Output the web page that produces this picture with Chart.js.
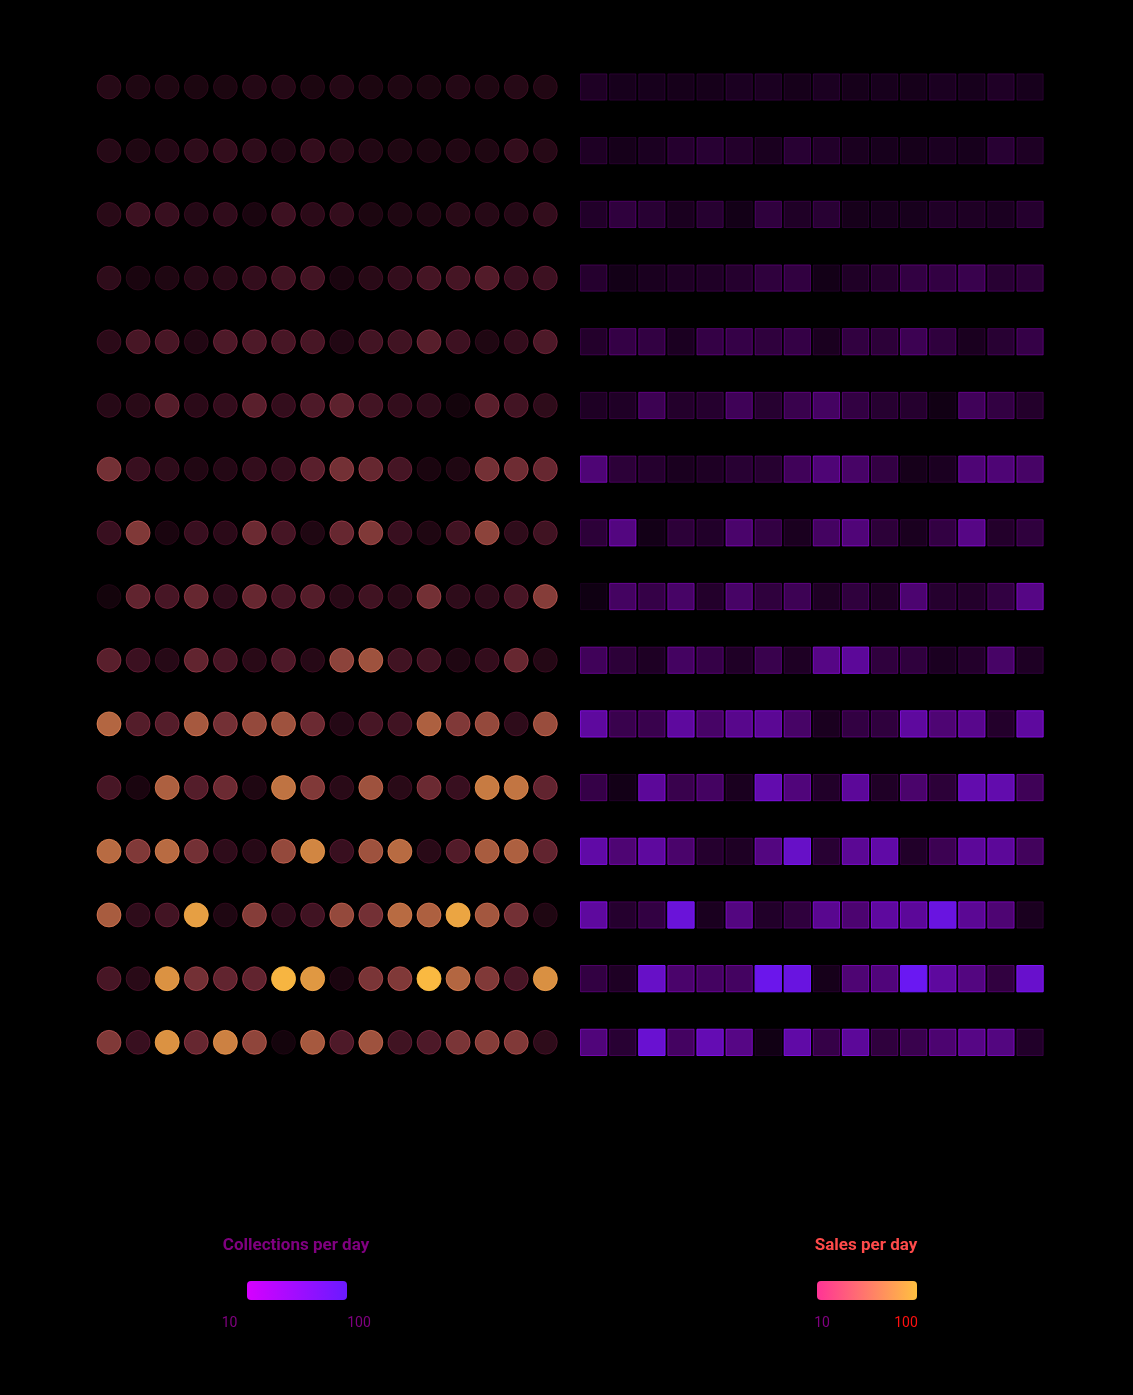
<!DOCTYPE html>
<html>
<head>
<meta charset="utf-8">
<script src="https://cdn.jsdelivr.net/npm/chart.js@4.4.1/dist/chart.umd.min.js"></script>
<style>
html,body{margin:0;padding:0;background:#000;width:1133px;height:1395px;overflow:hidden}
#wrap{position:relative;width:1133px;height:1395px;background:#000}
#c{position:absolute;left:0;top:0}
.ttl{position:absolute;font-family:Roboto,"Liberation Sans",sans-serif;font-weight:700;font-size:17px;white-space:nowrap;transform:translate(-50%,-50%)}
.bar{position:absolute;border-radius:4px;width:100px;height:19px}
.lab{position:absolute;font-family:Roboto,"Liberation Sans",sans-serif;font-size:14px;white-space:nowrap;transform:translate(-50%,-50%)}
</style>
</head>
<body>
<div id="wrap">
<canvas id="c" width="1133" height="1395"></canvas>
</div>
<script>
// ---------- data ----------
const columns = [0,1,2,3,4,5,6,7,8,9,10,11,12,13,14,15];
const rows    = [0,1,2,3,4,5,6,7,8,9,10,11,12,13,14,15];

// Sales per day (circles, left grid), one list per row
const sales = [
  [15,12,12,11,11,14,14,11,14,11,12,11,14,12,15,13],
  [15,12,14,18,20,18,13,20,16,13,12,11,13,12,20,15],
  [16,24,22,14,19,10,24,17,20,11,12,12,16,15,14,20],
  [18,10,12,15,16,20,25,26,10,16,20,27,27,32,22,24],
  [17,28,28,13,30,30,28,28,13,26,25,34,24,12,20,30],
  [15,16,33,17,20,35,20,30,36,26,20,18, 8,35,26,18],
  [45,22,18,13,14,20,20,35,45,40,27,10,12,45,43,40],
  [22,50,10,22,17,42,27,12,40,50,22,12,25,55,18,25],
  [ 8,38,28,40,18,40,27,33,16,25,16,45,18,18,28,52],
  [35,23,15,38,28,16,30,15,55,62,25,25,12,20,40,14],
  [70,33,33,65,45,58,62,42,14,28,25,68,50,58,18,60],
  [28,10,68,33,42,12,75,50,16,62,16,42,22,78,76,38],
  [72,50,72,45,18,15,58,82,22,62,72,16,32,66,68,38],
  [66,18,26,90,12,52,18,25,58,45,72,68,92,64,45,12],
  [28,16,86,45,38,38,97,88,10,48,50,98,70,50,28,85],
  [50,22,86,40,80,56, 8,65,30,62,25,30,48,52,50,18]
];

// Collections per day (squares, right grid), one list per row
const collections = [
  [14,11,11,10,10,13,13,10,13,10,11,10,13,11,15,11],
  [14,10,13,18,20,17,12,20,16,12,11,10,13,11,20,14],
  [16,24,20,12,19, 9,24,15,20,10,11,11,15,14,13,18],
  [18, 9,12,14,15,18,24,25, 9,15,18,26,26,30,20,22],
  [17,27,26,13,27,28,24,27,12,25,22,32,24,12,20,28],
  [14,15,32,17,18,34,19,30,38,26,19,18, 8,35,26,17],
  [46,22,18,12,14,20,19,35,46,40,26,10,13,46,46,40],
  [22,50, 9,22,16,42,26,12,38,47,22,12,26,52,17,24],
  [ 7,38,28,40,17,40,24,33,14,24,14,44,18,17,26,52],
  [35,22,14,38,28,15,30,14,52,60,24,24,13,17,40,14],
  [62,30,30,62,40,55,58,40,12,26,24,62,45,55,17,62],
  [28, 9,60,30,38,12,68,48,16,60,15,42,22,68,68,34],
  [65,45,62,42,18,14,50,78,20,58,65,16,32,60,60,36],
  [62,18,26,85,12,50,16,24,56,44,62,60,88,58,45,12],
  [26,14,78,42,38,38,92,88,10,45,48,95,62,50,25,80],
  [48,20,82,38,70,52, 8,65,28,60,24,30,44,52,50,16]
];

// legend texts and tick labels
const legendTitles = ["Collections per day", "Sales per day"];
const legendTicks  = ["10", "100"];
const scaleMin = 10, scaleMax = 100;

// colour ramps
const salesRamp = [[255,51,150],[255,192,64]];
const collRamp  = [[214,0,255],[106,26,255]];

function rampColor(ramp, v, alphaMul){
  const t = Math.max(0, Math.min(1, (v - scaleMin) / (scaleMax - scaleMin)));
  const a = Math.max(0.05, Math.min(1, v / scaleMax)) * alphaMul;
  const c = ramp[0].map((x,i)=>Math.round(x + (ramp[1][i]-x)*t));
  return `rgba(${c[0]},${c[1]},${c[2]},${Math.min(1,a).toFixed(3)})`;
}

const rightOffset = 16.662;
const salesPts = [], collPts = [];
rows.forEach(r => columns.forEach(c => {
  salesPts.push({x: c, y: r, v: sales[r][c]});
  collPts.push({x: c + rightOffset, y: r, v: collections[r][c]});
}));

new Chart(document.getElementById('c'), {
  type: 'scatter',
  data: {
    datasets: [
      {
        label: 'Sales per day',
        data: salesPts,
        pointStyle: 'circle',
        pointRadius: 12,
        borderWidth: 1,
        backgroundColor: ctx => rampColor(salesRamp, ctx.raw ? ctx.raw.v : 0, 1),
        borderColor: ctx => rampColor(salesRamp, ctx.raw ? ctx.raw.v : 0, 0.9)
      },
      {
        label: 'Collections per day',
        data: collPts,
        pointStyle: 'rect',
        pointRadius: 18.6,
        borderWidth: 1,
        backgroundColor: ctx => rampColor(collRamp, ctx.raw ? ctx.raw.v : 0, 1),
        borderColor: ctx => rampColor(collRamp, ctx.raw ? ctx.raw.v : 0, 1.2)
      }
    ]
  },
  options: {
    responsive: false,
    animation: false,
    events: [],
    layout: {padding: 0, autoPadding: false},
    plugins: {legend: {display: false}, tooltip: {enabled: false}},
    scales: {
      x: {type: 'linear', display: false, min: -3.747, max: 35.201},
      y: {type: 'linear', display: false, reverse: true, min: -1.366, max: 20.537}
    }
  }
});

// ---------- HTML colour legends ----------
const wrap = document.getElementById('wrap');
function add(cls, text, x, y, color, extra){
  const d = document.createElement('div');
  d.className = cls;
  if (text !== null) d.textContent = text;
  d.style.left = x + 'px'; d.style.top = y + 'px';
  if (color) d.style.color = color;
  if (extra) Object.assign(d.style, extra);
  wrap.appendChild(d);
}
// Collections legend (left)
add('ttl', legendTitles[0], 296, 1244, '#800080');
add('bar', null, 247, 1281, null, {background: 'linear-gradient(to right, rgb(214,0,255), rgb(106,26,255))'});
add('lab', legendTicks[0], 229.5, 1322, '#800080');
add('lab', legendTicks[1], 359, 1322, '#800080');
// Sales legend (right)
add('ttl', legendTitles[1], 866, 1244, '#ff4a4a');
add('bar', null, 816.5, 1281, null, {background: 'linear-gradient(to right, rgb(255,51,150), rgb(255,192,64))'});
add('lab', legendTicks[0], 822, 1322, '#800080');
add('lab', legendTicks[1], 906, 1322, '#ff1010');
</script>
</body>
</html>
